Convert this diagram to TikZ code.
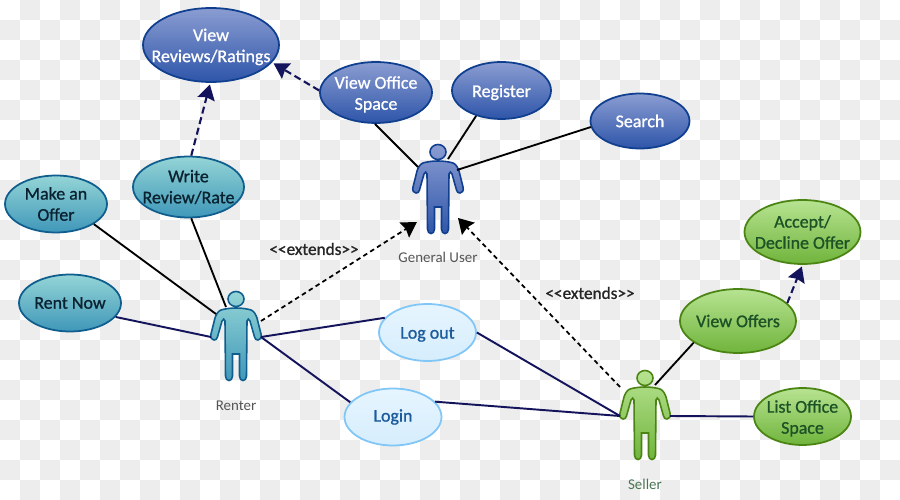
\documentclass[tikz,border=0pt]{standalone}
\usepackage{fontspec}
\setmainfont{Carlito}
\newfontfamily\casefont[FakeBold=1]{Carlito}
\usetikzlibrary{shapes.geometric,arrows.meta}

\definecolor{navyline}{HTML}{14145C}
\definecolor{checkgrey}{HTML}{EDEDED}
\definecolor{actorlabel}{HTML}{555555}
\definecolor{bluetop}{HTML}{8B9DD2}
\definecolor{bluebot}{HTML}{2E55A9}
\definecolor{blueedge}{HTML}{0F3F8E}
\definecolor{tealtop}{HTML}{94D5D6}
\definecolor{tealbot}{HTML}{3F97B9}
\definecolor{tealedge}{HTML}{0F5E8E}
\definecolor{tealtext}{HTML}{0A2230}
\definecolor{greentop}{HTML}{B7E391}
\definecolor{greenbot}{HTML}{70B43C}
\definecolor{greenedge}{HTML}{4A8412}
\definecolor{greentext}{HTML}{1C5226}
\definecolor{lighttop}{HTML}{E6F5FF}
\definecolor{lightbot}{HTML}{D6EDFC}
\definecolor{lightedge}{HTML}{80C6F7}
\definecolor{lighttext}{HTML}{1C5C9C}

\newcommand{\dropped}[1]{\raisebox{-1.1pt}[\height][\depth]{#1}}

\tikzset{
  usecase/.style={ellipse,inner xsep=-25pt,inner ysep=-12pt,align=center,line width=1pt,
    font=\casefont\fontsize{10.2}{12}\selectfont},
  bluefill/.style={top color=bluetop,bottom color=bluebot,draw=blueedge},
  tealfill/.style={top color=tealtop,bottom color=tealbot,draw=tealedge},
  greenfill/.style={top color=greentop,bottom color=greenbot,draw=greenedge},
  lightfill/.style={top color=lighttop,bottom color=lightbot,draw=lightedge},
  bluecase/.style={usecase,bluefill,text=white},
  tealcase/.style={usecase,tealfill,text=tealtext},
  greencase/.style={usecase,greenfill,text=greentext},
  lightcase/.style={usecase,lightfill,text=lighttext},
  uses/.style={line width=1.05pt,black},
  session/.style={line width=1.1pt,navyline},
  includes/.style={line width=1.2pt,navyline,dash pattern=on 4pt off 2.2pt,shorten >=1pt,
    -{Stealth[length=8.5pt,width=10pt,inset=1pt]}},
  extendsline/.style={line width=1pt,black,dash pattern=on 2.6pt off 2pt,
    -{Stealth[length=8.5pt,width=10pt,inset=1pt]}},
  actorname/.style={font=\fontsize{8.5}{10}\selectfont,text=actorlabel},
  extendsname/.style={font=\casefont\fontsize{9.8}{11}\selectfont,text=black!85},
  pics/actor/.style={code={
    \path[#1,line width=0.9pt]
      (0,0) ellipse [x radius=8,y radius=7.5]
      (0,9) .. controls (6,9) and (12,10) .. (15,11)
      .. controls (18,12) and (20,16) .. (21,19)
      -- (25,35) .. controls (26,39) and (24,41) .. (22,41)
      .. controls (20,41) and (19,40) .. (18.5,38)
      -- (14,22) .. controls (13.5,19.5) and (11,19.5) .. (11,22)
      -- (10.5,77) .. controls (10.5,83) and (3.5,83) .. (3.5,77)
      -- (3.5,55) -- (-3.5,55) -- (-3.5,77)
      .. controls (-3.5,83) and (-10.5,83) .. (-10.5,77)
      -- (-11,22) .. controls (-11,19.5) and (-13.5,19.5) .. (-14,22)
      -- (-18.5,38) .. controls (-19,40) and (-20,41) .. (-22,41)
      .. controls (-24,41) and (-26,39) .. (-25,35)
      -- (-21,19) .. controls (-20,16) and (-18,12) .. (-15,11)
      .. controls (-12,10) and (-6,9) .. (0,9) -- cycle;
    \coordinate (-nl) at (-10,8);
    \coordinate (-nr) at (10,7);
    \coordinate (-al) at (-20,15);
    \coordinate (-ar) at (19,18);
    \coordinate (-hl) at (-25,38);
    \coordinate (-hr) at (25,38);
    \coordinate (-ol) at (-25,9);
    \coordinate (-or) at (25,22);
    \coordinate (-fl) at (-21,70);
    \coordinate (-fr) at (20,66);
  }}
}

\begin{document}
\begin{tikzpicture}[x=0.02cm,y=-0.02cm]
  \useasboundingbox (0,0) rectangle (900,500);
  \fill [white] (0,0) rectangle (900,500);
  % grey squares behind everything
  \foreach \i in {0,...,44}
    \foreach \j in {0,...,24} {
      \pgfmathtruncatemacro{\cell}{mod(\i+\j,2)}
      \ifnum\cell=1
        \fill [checkgrey] (20*\i,20*\j) rectangle +(20,20);
      \fi
    }

  % general user side
  \node [bluecase,minimum width=2.72cm,minimum height=1.48cm] (viewreviews) at (211,45) {\dropped{View}\\\dropped{Reviews/Ratings}};
  \node [bluecase,minimum width=2.24cm,minimum height=1.22cm] (viewoffice) at (376,92.5) {\dropped{View Office}\\\dropped{Space}};
  \node [bluecase,minimum width=1.98cm,minimum height=1.14cm] (register) at (501.5,90.5) {\dropped{Register}};
  \node [bluecase,minimum width=1.98cm,minimum height=1.1cm] (search) at (640,121) {Search};

  % renter side
  \node [tealcase,minimum width=2.22cm,minimum height=1.22cm] (writereview) at (188.5,187) {Write\\Review/Rate};
  \node [tealcase,minimum width=2.04cm,minimum height=1.14cm] (makeoffer) at (56,204) {Make an\\Offer};
  \node [tealcase,minimum width=2.04cm,minimum height=1.14cm] (rentnow) at (70,303) {Rent Now};

  \node [lightcase,minimum width=1.94cm,minimum height=1.14cm] (logout) at (427.5,332.5) {\dropped{Log out}};
  \node [lightcase,minimum width=1.94cm,minimum height=1.14cm] (login) at (393,417) {Login};

  % seller side
  \node [greencase,minimum width=2.32cm,minimum height=1.28cm] (acceptoffer) at (802.5,232) {Accept/\\Decline Offer};
  \node [greencase,minimum width=2.32cm,minimum height=1.28cm] (viewoffers) at (738,321) {View Offers};
  \node [greencase,minimum width=1.94cm,minimum height=1.14cm] (listoffice) at (802.5,416.5) {\dropped{List Office}\\\dropped{Space}};

  \pic (general) at (438,152) {actor=bluefill};
  \pic (renter) at (236,299) {actor=tealfill};
  \pic (seller) at (645,378) {actor=greenfill};

  \node [actorname] (generalname) at (438,257) {General User};
  \node [actorname] (rentername) at (236,405.5) {Renter};
  \node [actorname,text=greentext!80] (sellername) at (645,484) {Seller};
  \node [extendsname] (extendsleft) at (314,249) {{<}{<}extends{>}{>}};
  \node [extendsname] (extendsright) at (590,293) {{<}{<}extends{>}{>}};

  \draw [uses] (viewoffice.-92) -- (general-al);
  \draw [uses] (register.-135) -- (general-nr);
  \draw [uses] (search.-173) -- (general-ar);
  \draw [uses] (writereview.-85) -- (renter-nl);
  \draw [uses] (makeoffer.-28) -- (renter-al);
  \draw [session] (rentnow.-17) -- (renter-hl);
  \draw [session] (renter-hr) -- (logout.161);
  \draw [session] (renter-hr) -- (login.161);
  \draw [session] (logout.0) -- (seller-hl);
  \draw [session] (login.20) -- (seller-hl);
  \draw [uses] (seller-nr) -- (viewoffers.-154);
  \draw [session] (seller-hr) -- (listoffice.180);

  \draw [includes] (viewoffice.178) -- (viewreviews.-16);
  \draw [includes] (writereview.85) -- (viewreviews.-91);
  \draw [includes] (viewoffers.20) -- (acceptoffer.-90);

  \draw [extendsline] (renter-or) -- (general-fl);
  \draw [extendsline] (seller-ol) -- (general-fr);
\end{tikzpicture}
\end{document}
